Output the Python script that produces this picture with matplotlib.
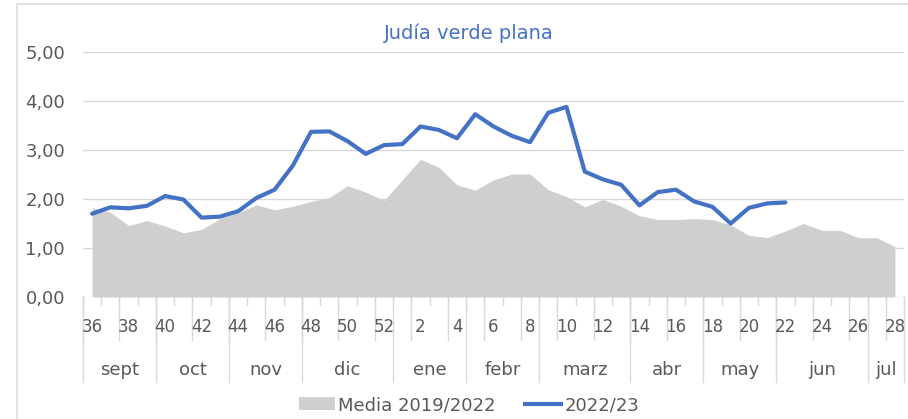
import matplotlib
matplotlib.use("Agg")
import matplotlib.pyplot as plt
import matplotlib.transforms as mtransforms
from matplotlib.patches import Patch, Rectangle
from matplotlib.lines import Line2D

plt.rcParams['font.family'] = ['DejaVu Sans']

weeks = [36, 37, 38, 39, 40, 41, 42, 43, 44, 45, 46, 47, 48, 49, 50, 51, 52,
         1, 2, 3, 4, 5, 6, 7, 8, 9, 10, 11, 12, 13, 14, 15, 16, 17, 18, 19, 20,
         21, 22, 23, 24, 25, 26, 27, 28]
months = ["sept", "oct", "nov", "dic", "ene", "febr", "marz", "abr", "may", "jun", "jul"]
month_weeks = [4, 4, 4, 5, 4, 4, 5, 4, 4, 5, 2]

media = [1.82, 1.73, 1.46, 1.56, 1.45, 1.31, 1.38, 1.60, 1.72, 1.88, 1.78, 1.85,
         1.95, 2.03, 2.27, 2.14, 1.97, 2.39, 2.81, 2.65, 2.29, 2.18, 2.39, 2.51,
         2.51, 2.19, 2.05, 1.84, 1.99, 1.85, 1.66, 1.58, 1.58, 1.60, 1.58, 1.47,
         1.26, 1.21, 1.35, 1.50, 1.36, 1.36, 1.21, 1.21, 1.03]
campaign = [1.70, 1.83, 1.81, 1.86, 2.06, 1.99, 1.62, 1.64, 1.75, 2.02, 2.19, 2.68,
            3.37, 3.38, 3.18, 2.92, 3.10, 3.12, 3.48, 3.41, 3.24, 3.73, 3.48, 3.29,
            3.16, 3.76, 3.88, 2.56, 2.40, 2.29, 1.87, 2.14, 2.19, 1.95, 1.84, 1.50,
            1.82, 1.91, 1.93]

yticks = [0, 1, 2, 3, 4, 5]
ytick_labels = ["0,00", "1,00", "2,00", "3,00", "4,00", "5,00"]

BLUE = "#4472C4"
GRAY = "#CFCFCF"
TXT = "#595959"
LINE = "#D9D9D9"

fig = plt.figure(figsize=(9.08, 4.19), dpi=100)

# chart border (cropped on right/bottom)
fig.add_artist(Rectangle((17/908, -0.5), 2.0, 1.5 - 4/419, transform=fig.transFigure,
                         facecolor='none', edgecolor="#DDDDDD", linewidth=1.2))

ax = fig.add_axes([83/908, (419-297)/419, (904-83)/908, (297-52)/419])
ax.patch.set_alpha(0)

x = list(range(len(weeks)))
ax.fill_between(x, 0, media, color=GRAY, linewidth=0, zorder=2)
ax.plot(range(len(campaign)), campaign, color=BLUE, linewidth=3, zorder=3,
        solid_joinstyle='round', solid_capstyle='round')

ax.set_xlim(-0.5, len(weeks) - 0.5)
ax.set_ylim(0, 5)
ax.set_yticks(yticks)
ax.set_yticklabels(ytick_labels, color=TXT, fontsize=13)
ax.tick_params(axis='y', length=0, pad=13)
ax.set_xticks([])
for s in ax.spines.values():
    s.set_visible(False)
for yv in yticks:
    ax.axhline(yv, color=LINE, linewidth=1, zorder=1)

trans = mtransforms.blended_transform_factory(ax.transData, ax.transAxes)
y_tick_bot = -8/245
y_row1_bot = -43/245
y_row2_bot = -85/245

# small ticks at every category boundary
for k in range(len(weeks) + 1):
    ax.plot([k - 0.5, k - 0.5], [0, y_tick_bot], transform=trans, color=LINE,
            linewidth=1, clip_on=False, zorder=1)
# lines before each labelled week
for k in range(0, len(weeks) + 1, 2):
    ax.plot([k - 0.5, k - 0.5], [0, y_row1_bot], transform=trans, color=LINE,
            linewidth=1, clip_on=False, zorder=1)
# month boundaries
start = 0
bounds = [0]
for n in month_weeks:
    start += n
    bounds.append(start)
for b in bounds:
    ax.plot([b - 0.5, b - 0.5], [0, y_row2_bot], transform=trans, color=LINE,
            linewidth=1, clip_on=False, zorder=1)

# week labels
for k in range(0, len(weeks), 2):
    ax.text(k, -30/245, str(weeks[k]), transform=trans, ha='center', va='center',
            fontsize=12, color=TXT)
# month labels
for i, m in enumerate(months):
    c = (bounds[i] + bounds[i + 1]) / 2 - 0.5
    ax.text(c, -73/245, m, transform=trans, ha='center', va='center',
            fontsize=13, color=TXT)

fig.text(469/908, 1 - 33/419, "Judía verde plana", ha='center', va='center',
         fontsize=14, color=BLUE)

handles = [Patch(facecolor=GRAY, edgecolor='none', label="Media 2019/2022"),
           Line2D([0], [0], color=BLUE, linewidth=3, label="2022/23")]
leg = fig.legend(handles=handles, loc='center', bbox_to_anchor=(469/908, 1 - 405/419),
                 ncol=2, frameon=False, fontsize=13, handlelength=2.0,
                 handletextpad=0.2, columnspacing=1.6)
for t in leg.get_texts():
    t.set_color(TXT)

fig.savefig("out.png", dpi=100)
